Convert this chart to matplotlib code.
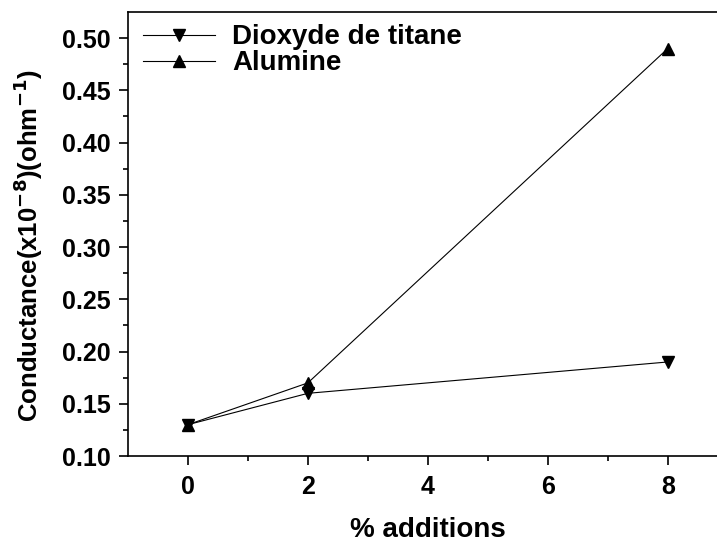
import matplotlib.pyplot as plt

plt.rcParams['font.family'] = ['Liberation Sans', 'DejaVu Sans']
plt.rcParams['font.weight'] = 'bold'
plt.rcParams['mathtext.default'] = 'bf'

additions = [0, 2, 8]
titane = [0.13, 0.16, 0.19]
alumine = [0.13, 0.17, 0.49]

fig = plt.figure(figsize=(7.17, 5.42), dpi=100)
ax = fig.add_axes([128/717, 1 - 456/542, (727.7 - 128)/717, (456 - 12)/542])

ax.plot(additions, titane, color='black', lw=0.8, marker='v', ms=8, label='Dioxyde de titane')
ax.plot(additions, alumine, color='black', lw=0.8, marker='^', ms=8, label='Alumine')

ax.set_xlim(-1, 9)
ax.set_ylim(0.10, 0.525)
ax.set_xticks([0, 2, 4, 6, 8])
ax.set_xticks([1, 3, 5, 7], minor=True)
ax.set_yticks([0.10, 0.15, 0.20, 0.25, 0.30, 0.35, 0.40, 0.45, 0.50])
ax.set_yticks([0.125, 0.175, 0.225, 0.275, 0.325, 0.375, 0.425, 0.475], minor=True)
ax.set_yticklabels([f'{v:.2f}' for v in ax.get_yticks()])
ax.tick_params(which='major', direction='out', length=6.5, width=1.2, labelsize=18)
ax.tick_params(axis='x', which='major', pad=7)
ax.tick_params(axis='y', which='major', pad=6)
ax.tick_params(which='minor', direction='out', length=3.5, width=1.2)
for s in ax.spines.values():
    s.set_linewidth(1.2)

ax.set_xlabel('% additions', fontsize=20, fontweight='bold', labelpad=13)
ax.set_ylabel('Conductance(x10$^{-8}$)(ohm$^{-1}$)', fontsize=18.5, fontweight='bold')
ax.yaxis.set_label_coords(-0.138, 0.473)

leg = ax.legend(loc='upper left', frameon=False, fontsize=20, handlelength=2.6,
                borderaxespad=0.0, handletextpad=0.6, labelspacing=0.0,
                borderpad=0.0, bbox_to_anchor=(0.025, 0.972))

fig.savefig('out.png', dpi=100)
